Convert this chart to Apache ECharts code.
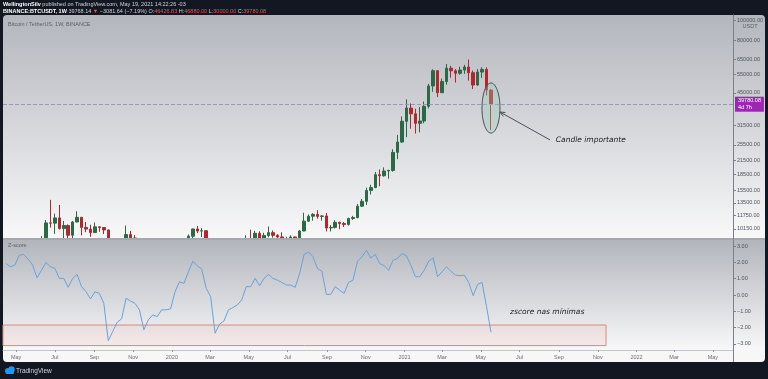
<!DOCTYPE html>
<html><head><meta charset="utf-8">
<script src="https://cdn.jsdelivr.net/npm/echarts@6/dist/echarts.min.js"></script>
<style>html,body{margin:0;padding:0;background:#131722;}#c{width:768px;height:379px;}</style>
</head><body><div id="c"></div>
<script>
// ---- data ----
const weeks = [
'2019-04-15','2019-04-22','2019-04-29','2019-05-06','2019-05-13','2019-05-20','2019-05-27','2019-06-03','2019-06-10','2019-06-17',
'2019-06-24','2019-07-01','2019-07-08','2019-07-15','2019-07-22','2019-07-29','2019-08-05','2019-08-12','2019-08-19','2019-08-26',
'2019-09-02','2019-09-09','2019-09-16','2019-09-23','2019-09-30','2019-10-07','2019-10-14','2019-10-21','2019-10-28','2019-11-04',
'2019-11-11','2019-11-18','2019-11-25','2019-12-02','2019-12-09','2019-12-16','2019-12-23','2019-12-30',
'2020-01-06','2020-01-13','2020-01-20','2020-01-27','2020-02-03','2020-02-10','2020-02-17','2020-02-24','2020-03-02','2020-03-09',
'2020-03-16','2020-03-23','2020-03-30','2020-04-06','2020-04-13','2020-04-20','2020-04-27','2020-05-04','2020-05-11','2020-05-18',
'2020-05-25','2020-06-01','2020-06-08','2020-06-15','2020-06-22','2020-06-29','2020-07-06','2020-07-13','2020-07-20','2020-07-27',
'2020-08-03','2020-08-10','2020-08-17','2020-08-24','2020-08-31','2020-09-07','2020-09-14','2020-09-21','2020-09-28','2020-10-05',
'2020-10-12','2020-10-19','2020-10-26','2020-11-02','2020-11-09','2020-11-16','2020-11-23','2020-11-30','2020-12-07','2020-12-14',
'2020-12-21','2020-12-28',
'2021-01-04','2021-01-11','2021-01-18','2021-01-25','2021-02-01','2021-02-08','2021-02-15','2021-02-22','2021-03-01','2021-03-08',
'2021-03-15','2021-03-22','2021-03-29','2021-04-05','2021-04-12','2021-04-19','2021-04-26','2021-05-03','2021-05-10','2021-05-17'
];
const opens = [
5160,5290,5210,5750,6960,8190,8740,8730,7640,8970,
10850,10820,11460,10190,10540,9480,10960,11530,10330,10140,
9760,10390,10310,10040,8050,8230,8280,8220,9550,9200,
9040,8500,6910,7420,7510,7080,7500,7390,
7760,8180,8630,8600,9380,10150,9920,9960,8520,8030,
5360,5820,5880,6770,6900,7120,7700,8890,8720,9680,
8720,9450,9750,9470,9300,9120,9070,9300,9210,9930,
11060,11680,11910,11650,11710,10260,10330,10920,10770,10670,
11380,11500,13030,13740,15480,15970,18400,18180,19150,19270,
23480,26280,
33000,38150,35800,32260,33090,38880,48580,57410,45140,50970,
59020,57350,55800,57800,59770,56150,49070,56580,58240,46430
];
const closes = [
5290,5210,5750,6960,8190,8740,8730,7640,8970,10850,
10820,11460,10190,10540,9480,10960,11530,10330,10140,9760,
10390,10310,10040,8050,8230,8280,8220,9550,9200,9040,
8500,6910,7420,7510,7080,7500,7390,7760,
8180,8630,8600,9380,10150,9920,9960,8520,8030,5360,
5820,5880,6770,6900,7120,7700,8890,8720,9680,8720,
9450,9750,9470,9300,9120,9070,9300,9210,9930,11060,
11680,11910,11650,11710,10260,10330,10920,10770,10670,11380,
11500,13030,13740,15480,15970,18400,18180,19150,19270,23480,
26280,33000,
38150,35800,32260,33090,38880,48580,57410,45140,50970,59020,
57350,55800,57800,59770,56150,49070,56580,58240,46430,39780.08
];
const lows = [
4960,5000,5150,5600,6600,7500,8000,7450,7500,8960,
10300,9620,10100,9070,9160,9110,10900,9470,9800,9320,
9750,9850,9600,7800,7710,7900,7920,7300,9000,8700,
8370,6790,6520,7090,6980,6440,7140,6870,
7680,8040,8240,8560,9160,9700,9300,8450,8000,3780,
4440,5670,5860,6700,6460,6750,7640,8200,8200,8700,
8630,9270,9230,8900,8830,8940,9050,9000,9030,9900,
10960,11120,11360,11120,9880,9880,10200,10130,10370,10530,
11210,11410,12950,13200,14800,15870,16200,18000,17600,19000,
21800,26080,
27730,30420,28850,29240,32300,37990,45570,43000,44950,49270,
53200,50430,54900,55470,51500,47000,48750,53000,43800,30000
];
const highs = [
5460,5630,5900,7450,8370,8950,9090,8830,9390,11200,
13970,12000,13200,11080,10680,11080,12320,11580,10950,10630,
10900,10450,10350,10080,8500,8780,8410,10540,9940,9500,
9100,8520,7860,7750,7650,7520,7700,7850,
8460,9190,8750,9560,10190,10500,10250,9970,9190,8180,
6900,6840,7080,7470,7300,7760,9460,10070,9950,9900,
9740,10430,9990,9590,9790,9320,9470,9350,10020,12120,
11900,12070,12470,11800,12090,10590,11180,10990,10950,11490,
11720,13350,14100,15960,16480,18950,19480,19920,19420,24300,
28420,34780,
41950,40100,37850,38530,40950,49700,58350,57500,52640,61800,
60600,58420,60000,61200,64850,57500,58450,59600,59500,46880
];
const zscore = [
1.93,1.73,1.83,2.44,2.48,2.20,1.83,1.06,1.52,1.99,
1.73,1.63,1.02,1.02,0.47,1.02,1.26,0.51,0.20,-0.24,
0.20,0.10,-0.51,-2.80,-2.24,-1.67,-1.46,-0.20,-0.37,-0.51,
-0.91,-2.13,-1.52,-1.22,-1.32,-0.91,-0.91,-0.85,0.20,0.81,
0.71,1.42,2.07,1.79,1.59,0.41,-0.10,-2.34,-1.79,-1.59,
-0.91,-0.77,-0.61,-0.30,0.51,0.51,1.02,0.57,1.02,1.26,
1.02,0.91,0.77,0.61,0.61,0.47,1.32,2.48,2.64,2.34,
1.63,1.46,0.04,0.04,0.51,0.30,0.10,0.77,0.91,2.07,
2.34,2.74,2.27,2.48,1.93,1.80,1.52,2.13,2.24,2.54,
2.40,1.83,1.12,1.12,1.52,2.07,2.27,1.12,1.42,1.73,
1.46,1.22,1.18,1.22,0.77,-0.04,0.65,0.77,-0.71,-2.28
];
const priceTicks = [10150,11750,13500,15500,18500,21500,25500,31500,45000,55000,65000,80000,100000];
const zTicks = [-3,-2,-1,0,1,2,3];
const timeTicks = ['2019-05-01','2019-07-01','2019-09-01','2019-11-01','2020-01-01','2020-03-01','2020-05-01','2020-07-01','2020-09-01','2020-11-01','2021-01-01','2021-03-01','2021-05-01','2021-07-01','2021-09-01','2021-11-01','2022-01-01','2022-03-01','2022-05-01'];
const monthNames = ['Jan','Feb','Mar','Apr','May','Jun','Jul','Aug','Sep','Oct','Nov','Dec'];
const lastPrice = 39780.08;
const lastWeek = '2021-05-17';
const zoneEnd = '2021-11-14';
const zoneTop = -1.84, zoneBottom = -3.1;

// ---- view settings ----
const xMinStr = '2019-04-10 09:36', xMaxStr = '2022-06-01 17:00';
const yMin = 9196, yMax = 105626;
const FONT = 'Liberation Sans';
const UP = '#2a6a44', DOWN = '#b3262f';

// date string -> UTC timestamp (time placed on a numeric axis)
const ts = s => { const [d,t] = s.split(' '); const [Y,M,D] = d.split('-').map(Number); const [h,m] = (t||'0:0').split(':').map(Number); return Date.UTC(Y, M-1, D, h, m); };
const xMin = ts(xMinStr), xMax = ts(xMaxStr);
const timeTickVals = timeTicks.map(ts);

const candleData = weeks.map((w,i)=>[ts(w), opens[i], closes[i], lows[i], highs[i]]);
const zData = weeks.map((w,i)=>[ts(w), zscore[i]]);
const grad = (a,b)=>({type:'linear',x:0,y:0,x2:0,y2:1,colorStops:[{offset:0,color:a},{offset:1,color:b}]});
const timeLabel = v => { const d = new Date(v); const m = d.getUTCMonth(); return m===0 ? String(d.getUTCFullYear()) : monthNames[m]; };

const chart = echarts.init(document.getElementById('c'));
const option = {
  animation:false,
  backgroundColor:'#131722',
  grid:[{left:3, top:15, width:730, height:223},{left:3, top:240, width:730, height:110}],
  xAxis:[
    {type:'value', gridIndex:0, min:xMin, max:xMax, show:false, scale:true, splitLine:{show:false}},
    {type:'value', gridIndex:1, min:xMin, max:xMax, scale:true, z:4,
      axisLine:{show:true, onZero:false, lineStyle:{color:'#c3c5cb'}},
      axisTick:{show:true, customValues:timeTickVals, length:2, lineStyle:{color:'#9598a1'}},
      axisLabel:{customValues:timeTickVals, fontSize:5.5, color:'#6a6d78', margin:4, fontFamily:FONT, formatter:timeLabel},
      splitLine:{show:false}}
  ],
  yAxis:[
    {type:'log', logBase:10, gridIndex:0, position:'right', min:yMin, max:yMax,
      axisLine:{show:true, lineStyle:{color:'#7d808a'}},
      axisTick:{show:true, customValues:priceTicks, length:3, lineStyle:{color:'#7d808a'}},
      axisLabel:{customValues:priceTicks, formatter:v=>Number(v).toFixed(2), fontSize:5.5, color:'#4f525c', margin:4, fontFamily:FONT},
      splitLine:{show:false}},
    {type:'value', gridIndex:1, position:'right', min:-3.37, max:3.37, z:4,
      axisLine:{show:true, onZero:false, lineStyle:{color:'#7d808a'}},
      axisTick:{show:true, customValues:zTicks, length:3, lineStyle:{color:'#7d808a'}},
      axisLabel:{customValues:zTicks, formatter:v=>(v<0?'\u2212':'')+Math.abs(v).toFixed(2), fontSize:5.5, color:'#4f525c', margin:4, fontFamily:FONT},
      splitLine:{show:false}}
  ],
  series:[
    {type:'candlestick', xAxisIndex:0, yAxisIndex:0, data:candleData, barWidth:3, clip:true, z:1,
      itemStyle:{color:UP, color0:DOWN, borderColor:UP, borderColor0:DOWN, borderWidth:1},
      markLine:{silent:true, symbol:['none','none'], animation:false,
        lineStyle:{type:'dashed', color:'#9a97b8', width:1},
        label:{show:true, position:'end', distance:2, formatter:()=>lastPrice.toFixed(2)+'\n4d 7h',
          backgroundColor:'#9c27b0', color:'#fff', fontSize:5.5, lineHeight:6.5, padding:[1,3,1,3], fontFamily:FONT, align:'left'},
        data:[{yAxis:lastPrice}]}},
    {type:'line', xAxisIndex:1, yAxisIndex:1, data:zData, showSymbol:false, silent:true, z:3,
      lineStyle:{color:'#6aa2da', width:1},
      markArea:{silent:true, z:2.5, itemStyle:{color:'rgba(244,67,54,0.07)', borderColor:'#e0877f', borderWidth:1},
        data:[[{xAxis:xMin, yAxis:zoneTop},{xAxis:ts(zoneEnd), yAxis:zoneBottom}]]}}
  ]
};
chart.setOption(option);

// ---- annotations, placed from chart coordinates ----
const p = (g, pt)=>chart.convertToPixel(g===0?{xAxisIndex:0,yAxisIndex:0}:{xAxisIndex:1,yAxisIndex:1}, pt);
const eTop = p(0,[ts(lastWeek), 50200]), eBot = p(0,[ts(lastWeek), 29000]);
const cx = eTop[0], cy = (eTop[1]+eBot[1])/2, ry = (eBot[1]-eTop[1])/2, rx = 9;
const aS = [cx+rx, cy+4];
const aE = p(0,[ts('2021-08-18'), 26900]);
const ang = Math.atan2(aS[1]-aE[1], aS[0]-aE[0]);
const hl = 5, hw = 2.2;
const head = [aS,
  [aS[0]-hl*Math.cos(ang)+hw*Math.sin(ang), aS[1]-hl*Math.sin(ang)-hw*Math.cos(ang)],
  [aS[0]-hl*Math.cos(ang)-hw*Math.sin(ang), aS[1]-hl*Math.sin(ang)+hw*Math.cos(ang)]];
const t1 = p(0,[ts('2021-08-27'), 26900]);
const t2 = p(1,[ts('2021-06-16'), -1.04]);

const white = '#d1d4dc';
chart.setOption({graphic:{elements:[
  {type:'rect', z:-100, silent:true, shape:{x:3,y:15,width:762,height:223,r:[4,4,0,0]}, style:{fill:grad('#b3b6bd','#f8f8f9')}},
  // lower pane background is drawn over the price pane so candles end at the pane edge
  {type:'rect', z:1.5, silent:true, shape:{x:3,y:238,width:762,height:2}, style:{fill:'#a6a9b1'}},
  {type:'rect', z:1.5, silent:true, shape:{x:3,y:240,width:762,height:110}, style:{fill:grad('#b2b5bc','#f8f8f9')}},
  {type:'rect', z:1.5, silent:true, shape:{x:3,y:350,width:762,height:12,r:[0,0,4,4]}, style:{fill:'#f7f7f8'}},
  {type:'line', z:5, silent:true, shape:{x1:733.5,y1:15,x2:733.5,y2:362}, style:{stroke:'#7d808a', lineWidth:1}},
  {type:'text', z:100, silent:true, x:3, y:4, style:{text:'{b|WellingtonSilv} published on TradingView.com, May 19, 2021 14:22:26 -03', fill:white, font:'5.5px '+FONT, verticalAlign:'middle',
     rich:{b:{fontWeight:'bold', fill:'#ffffff', fontSize:5.5, fontFamily:FONT}}}},
  {type:'text', z:100, silent:true, x:3, y:11, style:{text:'{b|BINANCE:BTCUSDT, 1W} 39768.14 {r|\u25BC} \u22123081.64 (\u22127.19%) O:{r|46426.83} H:{r|46880.00} L:{r|30000.00} C:{r|39780.08}', fill:white, font:'5.5px '+FONT, verticalAlign:'middle',
     rich:{b:{fontWeight:'bold', fill:'#ffffff', fontSize:5.5, fontFamily:FONT}, r:{fill:'#ef5350', fontSize:5.5, fontFamily:FONT}}}},
  {type:'text', z:100, silent:true, x:8, y:24, style:{text:'Bitcoin / TetherUS, 1W, BINANCE', fill:'#5d606b', font:'5.5px '+FONT, verticalAlign:'middle'}},
  {type:'text', z:100, silent:true, x:750, y:26, style:{text:'USDT', fill:'#5d606b', font:'5.5px '+FONT, align:'center', verticalAlign:'middle'}},
  {type:'text', z:100, silent:true, x:8, y:245, style:{text:'Z-score', fill:'#5d606b', font:'5.5px '+FONT, verticalAlign:'middle'}},
  {type:'ellipse', z:90, silent:true, shape:{cx:cx, cy:cy, rx:rx, ry:ry}, style:{fill:'rgba(150,205,180,0.35)', stroke:'#4d5058', lineWidth:1}},
  {type:'line', z:90, silent:true, shape:{x1:aE[0],y1:aE[1],x2:aS[0],y2:aS[1]}, style:{stroke:'#4d5058', lineWidth:1}},
  {type:'polyline', z:90, silent:true, shape:{points:[head[1],head[0],head[2]]}, style:{stroke:'#4d5058', lineWidth:1, fill:null}},
  {type:'text', z:100, silent:true, x:t1[0], y:t1[1], style:{text:'Candle importante', fill:'#1c1c1c', font:'italic 7.5px "DejaVu Sans"', verticalAlign:'middle'}},
  {type:'text', z:100, silent:true, x:t2[0], y:t2[1], style:{text:'zscore nas m\u00ednimas', fill:'#1c1c1c', font:'italic 7.5px "DejaVu Sans"', verticalAlign:'middle'}},
  {type:'circle', z:100, silent:true, shape:{cx:8, cy:371, r:3}, style:{fill:'#2196f3'}},
  {type:'circle', z:100, silent:true, shape:{cx:11.5, cy:369.5, r:3.2}, style:{fill:'#2196f3'}},
  {type:'rect', z:100, silent:true, shape:{x:6, y:371, width:8, height:3, r:1}, style:{fill:'#2196f3'}},
  {type:'text', z:100, silent:true, x:16, y:371, style:{text:'TradingView', fill:white, font:'6.5px '+FONT, verticalAlign:'middle'}}
]}});
</script>
</body></html>
